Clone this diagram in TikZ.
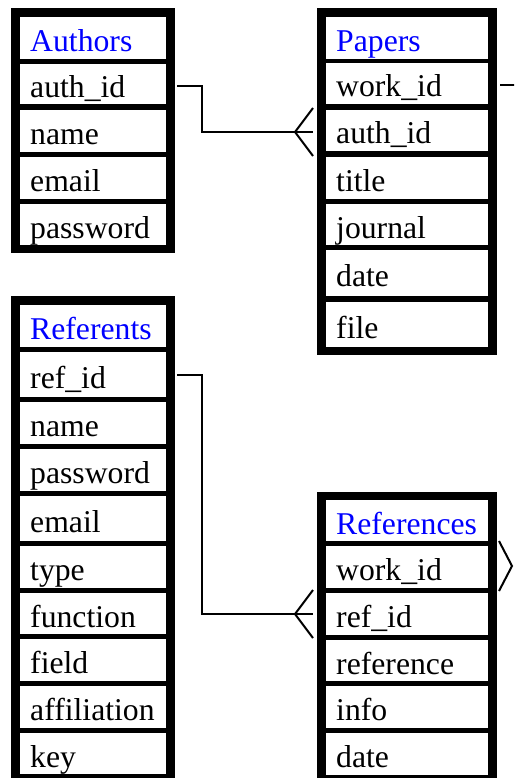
\documentclass[tikz,border=0pt]{standalone}
\usepackage{fontspec}
\setmainfont{Liberation Serif}
\usetikzlibrary{calc}
\tikzset{
  box/.style={fill=black, inner sep=0pt, outer sep=0pt, anchor=north west},
  cell/.style={fill=white, inner sep=0pt, outer sep=0pt, anchor=north west},
  lbl/.style={inner sep=0pt, anchor=base west, font=\fontsize{31.7pt}{38pt}\selectfont, text=black},
  hdr/.style={lbl, text=blue},
  conn/.style={line width=2pt, draw=black},
}
\newcommand{\erow}[7]{%
  \node[cell, minimum width=#5pt, minimum height={(#4-#3)*1pt}] (#1) at (#2,#3) {};
  \node[#7] (#1t) at ({#2+10},{(#3+#4)/2+13.5}) {#6};
}
\begin{document}
\begin{tikzpicture}[x=1pt,y=-1pt]
\useasboundingbox (0,0) rectangle (514,778);
\clip (0,0) rectangle (514,778);
% outer boxes
\node[box, minimum width=164pt, minimum height=245pt] (A) at (11,8) {};
\node[box, minimum width=180pt, minimum height=347pt] (P) at (317,8) {};
\node[box, minimum width=164pt, minimum height=484pt] (R) at (11,296) {};
\node[box, minimum width=180pt, minimum height=288pt] (F) at (317,492) {};
% Authors
\erow{a0}{20}{17}{59}{146}{Authors}{hdr}
\erow{a1}{20}{64}{104}{146}{auth\_id}{lbl}
\erow{a2}{20}{110}{152}{146}{name}{lbl}
\erow{a3}{20}{157}{199}{146}{email}{lbl}
\erow{a4}{20}{204}{245}{146}{password}{lbl}
% Papers
\erow{p0}{326}{17}{59}{162}{Papers}{hdr}
\erow{p1}{326}{63}{104}{162}{work\_id}{lbl}
\erow{p2}{326}{110}{151}{162}{auth\_id}{lbl}
\erow{p3}{326}{157}{199}{162}{title}{lbl}
\erow{p4}{326}{204}{245}{162}{journal}{lbl}
\erow{p5}{326}{250}{296}{162}{date}{lbl}
\erow{p6}{326}{302}{347}{162}{file}{lbl}
% Referents
\erow{r0}{20}{305}{347}{146}{Referents}{hdr}
\erow{r1}{20}{352}{397}{146}{ref\_id}{lbl}
\erow{r2}{20}{402}{444}{146}{name}{lbl}
\erow{r3}{20}{449}{491}{146}{password}{lbl}
\erow{r4}{20}{496}{541}{146}{email}{lbl}
\erow{r5}{20}{546}{588}{146}{type}{lbl}
\erow{r6}{20}{593}{634}{146}{function}{lbl}
\erow{r7}{20}{639}{681}{146}{field}{lbl}
\erow{r8}{20}{686}{728}{146}{affiliation}{lbl}
\erow{r9}{20}{733}{774}{146}{key}{lbl}
% References
\erow{f0}{326}{500}{541}{162}{References}{hdr}
\erow{f1}{326}{546}{588}{162}{work\_id}{lbl}
\erow{f2}{326}{593}{635}{162}{ref\_id}{lbl}
\erow{f3}{326}{640}{681}{162}{reference}{lbl}
\erow{f4}{326}{686}{728}{162}{info}{lbl}
\erow{f5}{326}{733}{775}{162}{date}{lbl}
% Authors.auth_id -> Papers.auth_id
\coordinate (pe) at ($(P.west |- p2.west)+(-4,1.5)$);
\coordinate (pk) at ($(pe)+(-18,0)$);
\draw[conn] ($(a1.east)+(11,2)$) -- ++(25,0) |- (pe);
\draw[conn] ($(pe)+(0,-24)$) -- (pk) -- ($(pe)+(0,24)$);
% Referents.ref_id -> References.ref_id
\coordinate (fe) at ($(F.west |- f2.west)+(-4,0)$);
\coordinate (fk) at ($(fe)+(-18,0)$);
\draw[conn] ($(r1.east)+(11,0)$) -- ++(25,0) |- (fe);
\draw[conn] ($(fe)+(0,-24)$) -- (fk) -- ($(fe)+(0,24)$);
% Papers.work_id stub
\coordinate (we) at ($(P.east |- p1.east)+(20,2)$);
\draw[conn] ($(P.east |- p1.east)+(3,2)$) -- (we);
% References.work_id crow's foot
\coordinate (rk) at ($(F.east |- f1.east)+(15,-1)$);
\draw[conn] ($(F.east |- f1.east)+(2,-26)$) -- (rk) -- ($(F.east |- f1.east)+(2,24)$);
\end{tikzpicture}
\end{document}
